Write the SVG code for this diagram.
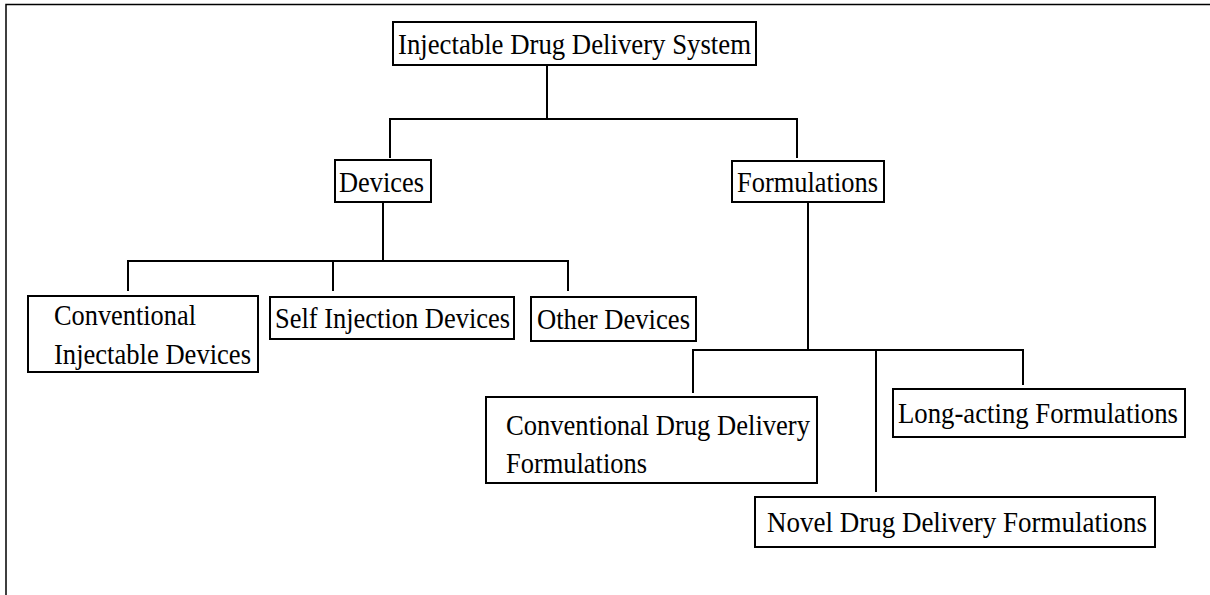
<svg xmlns="http://www.w3.org/2000/svg" width="1210" height="595" viewBox="0 0 1210 595">
<style>
.box{fill:#fff;stroke:#000;stroke-width:2}
.t{font-family:"Liberation Serif","Times New Roman",serif;font-size:29px;fill:#000}
.c{fill:none;stroke:#000;stroke-width:2}
</style>
<rect width="1210" height="595" fill="#fff"/>
<path d="M6,595 V4.5 H1210" fill="none" stroke="#000" stroke-width="1.5"/>
<g id="connectors" class="c">
<path d="M547,65 V119"/>
<path d="M390,158 V119 H797 V158"/>
<path d="M383,202 V261"/>
<path d="M128,291 V261 H568 V291"/>
<path d="M333,261 V291"/>
<path d="M808,202 V350"/>
<path d="M693,393 V350 H1023 V385"/>
<path d="M876,350 V492"/>
</g>
<g id="root"><rect class="box" x="393" y="22" width="363" height="43"/><text class="t" x="398" y="54" textLength="353" lengthAdjust="spacingAndGlyphs">Injectable Drug Delivery System</text></g>
<g id="devices"><rect class="box" x="335" y="160" width="96" height="42"/><text class="t" x="339" y="192" textLength="85" lengthAdjust="spacingAndGlyphs">Devices</text></g>
<g id="formulations"><rect class="box" x="732" y="161" width="152" height="41"/><text class="t" x="737" y="192" textLength="141" lengthAdjust="spacingAndGlyphs">Formulations</text></g>
<g id="conventional-devices"><rect class="box" x="28" y="296" width="230" height="76"/><text class="t" x="54" y="325" textLength="142" lengthAdjust="spacingAndGlyphs">Conventional</text><text class="t" x="54" y="364" textLength="197" lengthAdjust="spacingAndGlyphs">Injectable Devices</text></g>
<g id="self-injection"><rect class="box" x="270" y="297" width="244" height="42"/><text class="t" x="275" y="328" textLength="235" lengthAdjust="spacingAndGlyphs">Self Injection Devices</text></g>
<g id="other-devices"><rect class="box" x="531" y="297" width="165" height="44"/><text class="t" x="537" y="329" textLength="153" lengthAdjust="spacingAndGlyphs">Other Devices</text></g>
<g id="conventional-formulations"><rect class="box" x="486" y="397" width="331" height="86"/><text class="t" x="506" y="435" textLength="304" lengthAdjust="spacingAndGlyphs">Conventional Drug Delivery</text><text class="t" x="506" y="473" textLength="141" lengthAdjust="spacingAndGlyphs">Formulations</text></g>
<g id="long-acting"><rect class="box" x="893" y="389" width="292" height="48"/><text class="t" x="898" y="423" textLength="280" lengthAdjust="spacingAndGlyphs">Long-acting Formulations</text></g>
<g id="novel"><rect class="box" x="755" y="497" width="400" height="50"/><text class="t" x="767" y="532" textLength="380" lengthAdjust="spacingAndGlyphs">Novel Drug Delivery Formulations</text></g>
</svg>
